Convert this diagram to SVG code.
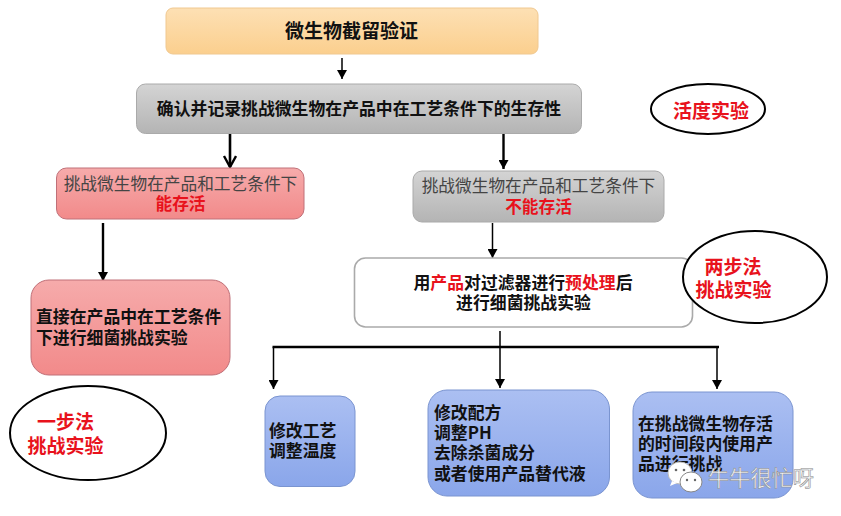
<svg xmlns="http://www.w3.org/2000/svg" width="841" height="516" viewBox="0 0 841 516">
<style>
text{font-family:"Noto Sans CJK SC","Noto Sans",sans-serif}
.b{font-weight:700;font-size:16.85px;fill:#111}
.c{text-anchor:middle}
.r{fill:#e8121c}
.n{font-size:16.7px;fill:#444;font-weight:400}
.h{font-weight:700;font-size:16.7px;fill:#e8121c}
.e{fill:#fff;stroke:#000;stroke-width:2}
.l{fill:none;stroke:#000}
</style>
<defs>
<linearGradient id="go" x1="0" y1="0" x2="0" y2="1"><stop offset="0" stop-color="#fde0b4"/><stop offset="1" stop-color="#fbcf8e"/></linearGradient>
<linearGradient id="gg" x1="0" y1="0" x2="0" y2="1"><stop offset="0" stop-color="#d4d4d4"/><stop offset="1" stop-color="#b4b4b4"/></linearGradient>
<linearGradient id="gr" x1="0" y1="0" x2="0" y2="1"><stop offset="0" stop-color="#f6abab"/><stop offset="1" stop-color="#f28a8a"/></linearGradient>
<linearGradient id="gb" x1="0" y1="0" x2="0" y2="1"><stop offset="0" stop-color="#abbff2"/><stop offset="1" stop-color="#8aa6ea"/></linearGradient>
<marker id="a" markerUnits="userSpaceOnUse" markerWidth="10" markerHeight="10" refX="9" refY="5" orient="auto"><path d="M0 0L9 5L0 10Z" fill="#000"/></marker>
<marker id="o" markerUnits="userSpaceOnUse" markerWidth="14" markerHeight="16" refX="12" refY="7" orient="auto"><path d="M1 1L12 7L1 13" fill="none" stroke="#000" stroke-width="2.4"/></marker>
</defs>
<rect width="841" height="516" fill="#fff"/>
<g id="connectors" class="l">
<path d="M342 58V79" stroke-width="1.5" marker-end="url(#a)"/>
<path d="M230 133V167" stroke-width="2.6" marker-end="url(#o)"/>
<path d="M503.500 133V169" stroke-width="2.4" marker-end="url(#a)"/>
<path d="M492.500 223V258" stroke-width="1.500" marker-end="url(#a)"/>
<path d="M103 223V281" stroke-width="2.400" marker-end="url(#a)"/>
<path d="M272.500 347H719" stroke-width="2.400"/>
<path d="M273.500 347V389" stroke-width="1.500" marker-end="url(#a)"/>
<path d="M500 331V388" stroke-width="1.500" marker-end="url(#a)"/>
<path d="M717 347V389" stroke-width="1.500" marker-end="url(#a)"/>
</g>
<g id="n-title"><rect x="166" y="8" width="372" height="46" rx="7" fill="url(#go)" stroke="#f0c890"/><text class="c" x="351.500" y="37.500" style="font-weight:700;font-size:19px;fill:#111">微生物截留验证</text></g>
<g id="n-confirm"><rect x="136.500" y="84" width="445" height="49.500" rx="9" fill="url(#gg)" stroke="#aaa"/><text class="b c" x="359" y="115">确认并记录挑战微生物在产品中在工艺条件下的生存性</text></g>
<g id="n-survive"><rect x="56.500" y="168" width="247.500" height="51" rx="10" fill="url(#gr)" stroke="#c07078"/><text class="n c" x="180.500" y="190">挑战微生物在产品和工艺条件下</text><text class="h c" x="180.500" y="210">能存活</text></g>
<g id="n-nosurvive"><rect x="413" y="171" width="251" height="51" rx="9" fill="url(#gg)" stroke="#aaa"/><text class="n c" x="538.500" y="192">挑战微生物在产品和工艺条件下</text><text class="h c" x="538.500" y="213">不能存活</text></g>
<g id="n-direct"><rect x="31" y="280" width="199" height="95" rx="18" fill="url(#gr)" stroke="#c07078"/><text class="b" x="36" y="323">直接在产品中在工艺条件</text><text class="b" x="36" y="344">下进行细菌挑战实验</text></g>
<g id="n-pretreat"><rect x="354.500" y="258" width="338" height="69" rx="11" fill="#fff" stroke="#aaa" stroke-width="1.600"/><text class="b c" x="523" y="289">用<tspan class="r">产品</tspan>对过滤器进行<tspan class="r">预处理</tspan>后</text><text class="b c" x="523.500" y="309">进行细菌挑战实验</text></g>
<g id="n-process"><rect x="265" y="396" width="90" height="90.500" rx="15" fill="url(#gb)" stroke="#7a94d0"/><text class="b" x="269" y="437">修改工艺</text><text class="b" x="269" y="457">调整温度</text></g>
<g id="n-formula"><rect x="428" y="390" width="181.500" height="106" rx="19" fill="url(#gb)" stroke="#7a94d0"/><text class="b" x="434" y="419">修改配方</text><text class="b" x="434" y="439">调整PH</text><text class="b" x="434" y="459">去除杀菌成分</text><text class="b" x="434" y="480">或者使用产品替代液</text></g>
<g id="n-time"><rect x="633" y="392" width="160" height="106" rx="19" fill="url(#gb)" stroke="#7a94d0"/><text class="b" x="638" y="430">在挑战微生物存活</text><text class="b" x="638" y="450">的时间段内使用产</text><text class="b" x="638" y="470">品进行挑战</text></g>
<g id="n-activity"><ellipse class="e" cx="708" cy="109" rx="57" ry="25"/><text class="h c" x="711" y="118" style="font-size:19px">活度实验</text></g>
<g id="n-twostep"><ellipse class="e" cx="755" cy="277" rx="72" ry="46"/><text class="h c" x="733" y="274" style="font-size:19px">两步法</text><text class="h c" x="733.500" y="297" style="font-size:19px">挑战实验</text></g>
<g id="n-onestep"><ellipse class="e" cx="88" cy="433" rx="78" ry="47"/><text class="h c" x="65.500" y="429" style="font-size:19px">一步法</text><text class="h c" x="65.500" y="453" style="font-size:19px">挑战实验</text></g>
<g id="watermark">
<ellipse cx="680" cy="473" rx="12" ry="11" fill="#fff" stroke="#bbb"/><path d="M672 481l-2 5 7-3z" fill="#fff"/>
<ellipse cx="691" cy="482" rx="11" ry="10" fill="#fff" stroke="#888"/>
<circle cx="676" cy="470" r="1.300" fill="#666"/><circle cx="684" cy="470" r="1.300" fill="#666"/><circle cx="687" cy="480" r="1.200" fill="#666"/><circle cx="695" cy="480" r="1.200" fill="#666"/>
<text x="708" y="486" style="font-size:21.200px;fill:#f2f4f6;stroke:#888;stroke-width:.5px">牛牛很忙呀</text>
</g>
</svg>
